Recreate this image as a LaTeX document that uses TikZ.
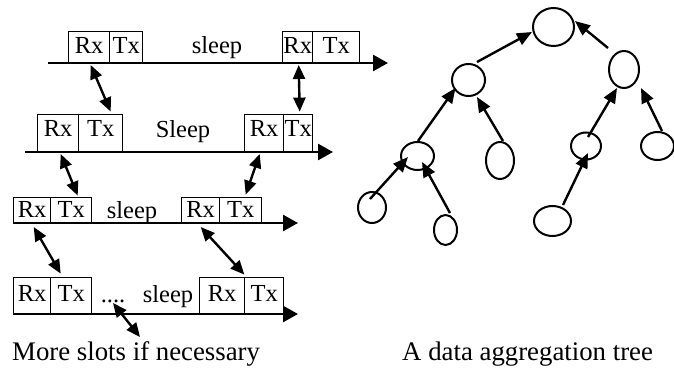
\documentclass[tikz,border=0pt]{standalone}
\usepackage{fontspec}
\setmainfont{Liberation Serif}
\usetikzlibrary{arrows.meta,shapes.geometric,calc}
\begin{document}
\begin{tikzpicture}[x=1pt,y=-1pt,
  box/.style={draw, line width=1.4pt, inner sep=0pt, anchor=south west, font=\fontsize{24.5}{28}\selectfont, text height=16pt},
  row1/.style={box, minimum height=31pt, text depth=3pt},
  row2/.style={box, minimum height=37pt, text depth=9pt},
  row3/.style={box, minimum height=25pt, text depth=0pt},
  row4/.style={box, minimum height=36pt, text depth=4pt},
  lbl/.style={inner sep=0pt, anchor=base, font=\fontsize{24.5}{28}\selectfont},
  captxt/.style={inner sep=0pt, anchor=base west, font=\fontsize{26.8}{30}\selectfont},
  timeline/.style={line width=2.6pt, -{Triangle[length=15pt,width=16pt]}},
  dbl/.style={line width=2.4pt, {Triangle[length=14pt,width=12pt]}-{Triangle[length=14pt,width=12pt]}},
  leaf/.style={draw, ellipse, line width=2pt, inner sep=0pt},
  tarrow/.style={line width=2.4pt, -{Triangle[length=15pt,width=12.5pt]}}
]
\useasboundingbox (0,0) rectangle (674,369);

% ---- timelines ----
\coordinate (l1s) at (48,63);  \coordinate (l1e) at (388,63);
\coordinate (l2s) at (25,152); \coordinate (l2e) at (333,152);
\coordinate (l3s) at (13,223); \coordinate (l3e) at (298,223);
\coordinate (l4s) at (13,314); \coordinate (l4e) at (298,314);

% row 1
\node[row1, minimum width=41pt] (r1rx) at (68,63) {Rx};
\node[row1, minimum width=33pt] (r1tx) at (109,63) {Tx};
\node[row1, minimum width=30pt] (r1rxb) at (282,63) {Rx};
\node[row1, minimum width=47pt] (r1txb) at (312,63) {Tx};
\node[lbl] (s1) at (217,54) {sleep};
% row 2
\node[row2, minimum width=41pt] (r2rx) at (37,152) {Rx};
\node[row2, minimum width=44pt] (r2tx) at (78,152) {Tx};
\node[row2, minimum width=39pt] (r2rxb) at (244,152) {Rx};
\node[row2, minimum width=29pt] (r2txb) at (283,152) {Tx};
\node[lbl] (s2) at (183,137) {Sleep};
% row 3
\node[row3, minimum width=37pt] (r3rx) at (13,223) {Rx};
\node[row3, minimum width=41pt] (r3tx) at (50,223) {Tx};
\node[row3, minimum width=38pt] (r3rxb) at (181,223) {Rx};
\node[row3, minimum width=42pt] (r3txb) at (219,223) {Tx};
\node[lbl] (s3) at (132,218) {sleep};
% row 4
\node[row4, minimum width=37pt] (r4rx) at (13,314) {Rx};
\node[row4, minimum width=41pt] (r4tx) at (50,314) {Tx};
\node[row4, minimum width=45pt] (r4rxb) at (199,314) {Rx};
\node[row4, minimum width=39pt] (r4txb) at (244,314) {Tx};
\node[lbl] (dots) at (113,302) {....};
\node[lbl] (s4) at (168,302) {sleep};

\draw[timeline] (l1s) -- (l1e);
\draw[timeline] (l2s) -- (l2e);
\draw[timeline] (l3s) -- (l3e);
\draw[timeline] (l4s) -- (l4e);

% captions
\node[captxt] (cap1) at (12,360) {More slots if necessary};
\node[captxt] (cap2) at (402,360) {A data aggregation tree};

% double arrows
\draw[dbl] ($(r1rx.south)+(1.5,2)$) -- ($(r2tx.north)+(10,-2)$);
\draw[dbl] ($(r1rxb.south)+(1,2)$) -- ($(r2txb.north)+(1.5,-2)$);
\draw[dbl] ($(r2rx.south)+(2.5,2)$) -- ($(r3tx.north)+(6.5,-1)$);
\draw[dbl] ($(r2rxb.south)+(-4.5,2)$) -- ($(r3txb.north)+(5,-2)$);
\draw[dbl] ($(r3rx.south)+(1.5,4)$) -- ($(r4tx.north)+(-10.5,-3)$);
\draw[dbl] ($(r3rxb.south)+(0,4)$) -- ($(r4rxb.north east)+(-1,-2)$);
\draw[dbl] ($(dots.base)+(0,1)$) -- ($(cap1.base west)+(128,-23)$);

% ---- tree ----
\node[leaf, minimum width=41pt, minimum height=38pt] (R) at (553.5,27) {};
\node[leaf, minimum width=33pt, minimum height=32pt] (A) at (468.5,80) {};
\node[leaf, minimum width=30pt, minimum height=37pt] (B) at (624,69.5) {};
\node[leaf, minimum width=33pt, minimum height=28pt] (C) at (417.5,156) {};
\node[leaf, minimum width=28pt, minimum height=37pt] (D) at (500,160.5) {};
\node[leaf, minimum width=30pt, minimum height=27pt] (E) at (586,146) {};
\node[leaf, minimum width=33pt, minimum height=28pt] (F) at (657.5,146) {};
\node[leaf, minimum width=28pt, minimum height=31pt] (G) at (372,207.5) {};
\node[leaf, minimum width=23pt, minimum height=30pt] (H) at (445.5,230) {};
\node[leaf, minimum width=37pt, minimum height=30pt] (I) at (552.5,221) {};

\draw[tarrow] ($(A)+(8.5,-18)$) -- ($(R)+(-21.5,5)$);
\draw[tarrow] ($(B)+(-16,-21.5)$) -- ($(R)+(21.5,-6)$);
\draw[tarrow] ($(C)+(0.5,-15)$) -- ($(A)+(-13,8)$);
\draw[tarrow] ($(D)+(3,-19.5)$) -- ($(A)+(8.5,17)$);
\draw[tarrow] ($(G)+(-2,-8.5)$) -- ($(C)+(-9.5,1)$);
\draw[tarrow] ($(H)+(4.5,-17)$) -- ($(C)+(4.5,6)$);
\draw[tarrow] ($(E)+(2,-9)$) -- ($(B)+(-7,18.5)$);
\draw[tarrow] ($(F)+(4.5,-15)$) -- ($(B)+(17,18.5)$);
\draw[tarrow] ($(I)+(10.5,-16)$) -- ($(E)+(2,7)$);
\end{tikzpicture}
\end{document}
